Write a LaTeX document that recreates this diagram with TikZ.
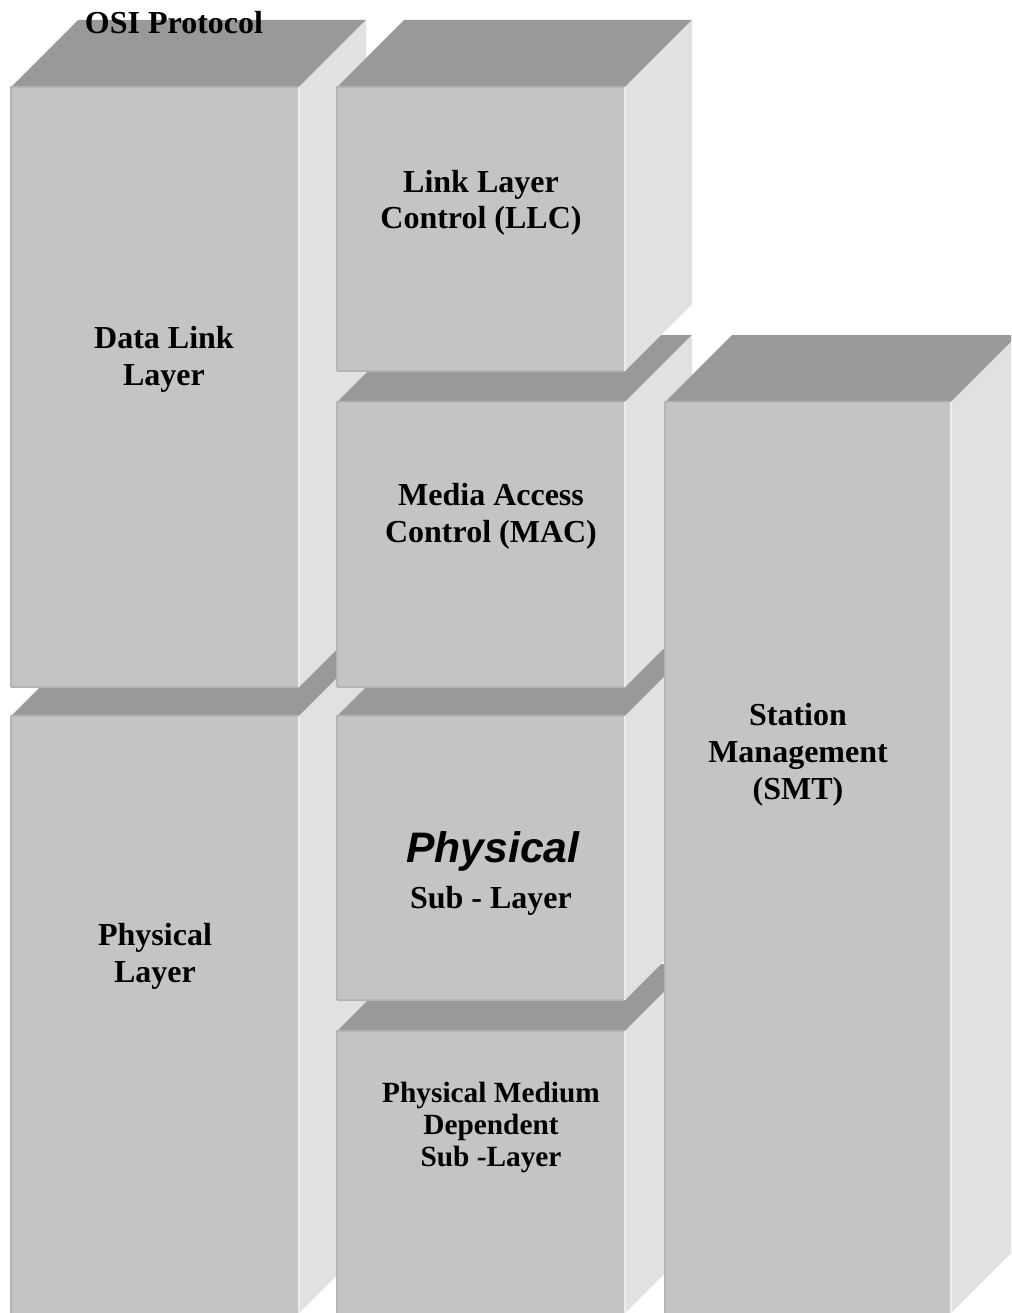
\documentclass[tikz,border=0pt]{standalone}
\usepackage{fontspec}
\setmainfont{Liberation Serif}
\newfontfamily\labelsans{Liberation Sans}
\definecolor{frontgray}{HTML}{C4C4C4}
\definecolor{topgray}{HTML}{999999}
\definecolor{sidegray}{HTML}{E1E1E1}
\definecolor{edgegray}{HTML}{B4B4B4}
\definecolor{edgelight}{HTML}{ECECEC}
\tikzset{
  frontface/.style={fill=frontgray},
  topface/.style={fill=topgray},
  sideface/.style={fill=sidegray},
  edgeline/.style={draw=edgegray, line width=1.2pt},
  edgehi/.style={draw=edgelight, line width=1.2pt},
  lbl/.style={font=\bfseries\fontsize{24}{28}\selectfont, inner sep=0pt, anchor=base},
  lblsmall/.style={font=\bfseries\fontsize{22}{26}\selectfont, inner sep=0pt, anchor=base},
  lblsans/.style={font=\labelsans\bfseries\itshape\fontsize{32}{36}\selectfont, inner sep=0pt, anchor=base},
}
% a layer drawn as a cuboid: front face (x1,y1)-(x2,y2), depth 67 up and to the right;
% boxes that run to the lower border get no bottom edge line
\newcommand\layerbox[4]{%
  \fill[topface] (#1,#2) -- (#3,#2) -- (#3+67,#2-67) -- (#1+67,#2-67) -- cycle;
  \fill[sideface] (#3,#2) -- (#3+67,#2-67) -- (#3+67,#4-67) -- (#3,#4) -- cycle;
  \fill[frontface] (#1,#2) rectangle (#3,#4);
  \draw[edgeline] (#1,#4) -- (#1,#2) -- (#3,#2);
  \ifnum#4<1313 \draw[edgeline] (#1,#4) -- (#3,#4);\fi
  \draw[edgehi] (#3,#2) -- (#3,#4);
}
\begin{document}
\begin{tikzpicture}[x=0.75pt, y=-0.75pt]
  \useasboundingbox (0,0) rectangle (1011,1313);
  \clip (0,0) rectangle (1011,1313);
  \fill[white] (0,0) rectangle (1011,1313);

  % left column: OSI layers
  \layerbox{11}{716}{299}{1313}
  \layerbox{11}{87}{299}{687}
  % middle column: FDDI sub-layers
  \layerbox{337}{1031}{625}{1313}
  \layerbox{337}{716}{625}{1000}
  \layerbox{337}{402}{625}{687}
  \layerbox{337}{87}{625}{371}
  % right column: station management
  \layerbox{665}{402}{951}{1313}

  % labels
  \node[lbl] (osi) at (174,34) {OSI Protocol};

  \node[lbl] (dl-a) at (164,348) {Data Link};
  \node[lbl] (dl-b) at (164,385) {Layer};

  \node[lbl] (llc-a) at (481,192) {Link Layer};
  \node[lbl] (llc-b) at (481,228) {Control (LLC)};

  \node[lbl] (mac-a) at (491,505) {Media Access};
  \node[lbl] (mac-b) at (491,542) {Control (MAC)};

  \node[lbl] (smt-a) at (798,725) {Station};
  \node[lbl] (smt-b) at (798,762) {Management};
  \node[lbl] (smt-c) at (798,799) {(SMT)};

  \node[lblsans] (phy-a) at (493,862) {Physical};
  \node[lbl] (phy-b) at (491,908) {Sub - Layer};

  \node[lbl] (pl-a) at (155,945) {Physical};
  \node[lbl] (pl-b) at (155,982) {Layer};

  \node[lblsmall] (pmd-a) at (491,1102) {Physical Medium};
  \node[lblsmall] (pmd-b) at (491,1134) {Dependent};
  \node[lblsmall] (pmd-c) at (491,1166) {Sub -Layer};
\end{tikzpicture}
\end{document}
